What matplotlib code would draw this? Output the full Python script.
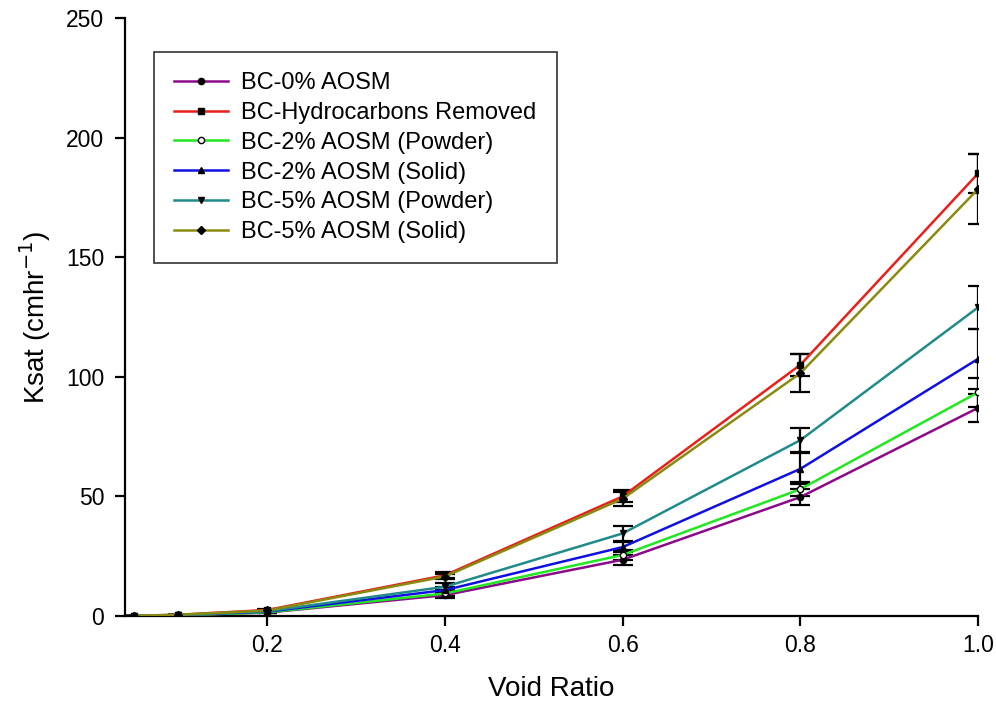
import matplotlib
matplotlib.use("Agg")
import matplotlib.pyplot as plt
import numpy as np

plt.rcParams["font.family"] = ["Liberation Sans", "DejaVu Sans"]

void_ratio = [0.05, 0.1, 0.2, 0.4, 0.6, 0.8, 1.0]

labels = [
    "BC-0% AOSM",
    "BC-Hydrocarbons Removed",
    "BC-2% AOSM (Powder)",
    "BC-2% AOSM (Solid)",
    "BC-5% AOSM (Powder)",
    "BC-5% AOSM (Solid)",
]

ksat_0 = [0.1, 0.3, 1.4, 8.7, 23.5, 49.7, 87.0]
ksat_hc = [0.1, 0.5, 2.5, 17.0, 50.0, 105.0, 185.0]
ksat_2p = [0.1, 0.3, 1.5, 9.4, 25.5, 53.0, 93.5]
ksat_2s = [0.1, 0.4, 1.8, 10.8, 28.8, 61.5, 107.5]
ksat_5p = [0.1, 0.4, 2.0, 12.2, 34.5, 73.5, 129.0]
ksat_5s = [0.1, 0.5, 2.3, 16.5, 49.0, 101.5, 178.5]

err_0 = [0.0, 0.0, 0.3, 1.0, 2.0, 3.5, 6.0]
err_hc = [0.0, 0.0, 0.4, 1.2, 2.5, 4.5, 8.0]
err_2p = [0.0, 0.0, 0.3, 1.0, 2.0, 3.0, 6.0]
err_2s = [0.0, 0.0, 0.3, 1.2, 2.0, 6.5, 12.5]
err_5p = [0.0, 0.0, 0.3, 1.5, 3.0, 5.0, 9.0]
err_5s = [0.0, 0.0, 0.4, 1.2, 3.0, 8.0, 14.5]

series = [ksat_0, ksat_hc, ksat_2p, ksat_2s, ksat_5p, ksat_5s]
errors = [err_0, err_hc, err_2p, err_2s, err_5p, err_5s]
colors = ["#8a0a8a", "#e8201a", "#22e622", "#1010e0", "#218a8a", "#8a8a10"]
markers = ["o", "s", "o", "^", "v", "D"]
facecolors = ["black", "black", "white", "black", "black", "black"]

fig = plt.figure(figsize=(9.96, 7.15), dpi=100)
ax = fig.add_axes([0.1255, 0.1385, 0.8565, 0.8363])

for y, e, c, m, fc, lab in zip(series, errors, colors, markers, facecolors, labels):
    ax.errorbar(void_ratio, y, yerr=e, fmt="none", ecolor="black", elinewidth=1.6,
                capsize=7, capthick=1.6, zorder=2)
    ax.plot(void_ratio, y, color=c, lw=1.8, marker=m, ms=4.5 if m != "D" else 4,
            mfc=fc, mec="black", mew=1.0, label=lab, zorder=3)

ax.set_xlim(0.04, 1.0)
ax.set_ylim(0, 250)
ax.set_xticks([0.2, 0.4, 0.6, 0.8, 1.0])
ax.set_xticklabels(["0.2", "0.4", "0.6", "0.8", "1.0"])
ax.set_yticks([0, 50, 100, 150, 200, 250])
ax.spines["top"].set_visible(False)
ax.spines["right"].set_visible(False)
for s in ("left", "bottom"):
    ax.spines[s].set_linewidth(1.6)
ax.tick_params(direction="out", length=7, width=1.6, labelsize=16.5)
ax.tick_params(axis="x", pad=6)
ax.tick_params(axis="y", pad=8)

ax.set_xlabel("Void Ratio", fontsize=20, labelpad=14)
ax.set_ylabel("Ksat (cmhr$^{-1}$)", fontsize=20, labelpad=9)

leg = ax.legend(loc="upper left", bbox_to_anchor=(0.034, 0.943), fontsize=17,
                handlelength=2.3, frameon=True, fancybox=False, borderpad=0.85,
                labelspacing=0.33, handletextpad=0.55, borderaxespad=0)
leg.get_frame().set_edgecolor("black")
leg.get_frame().set_linewidth(1.2)

fig.savefig("out.png", dpi=100)
